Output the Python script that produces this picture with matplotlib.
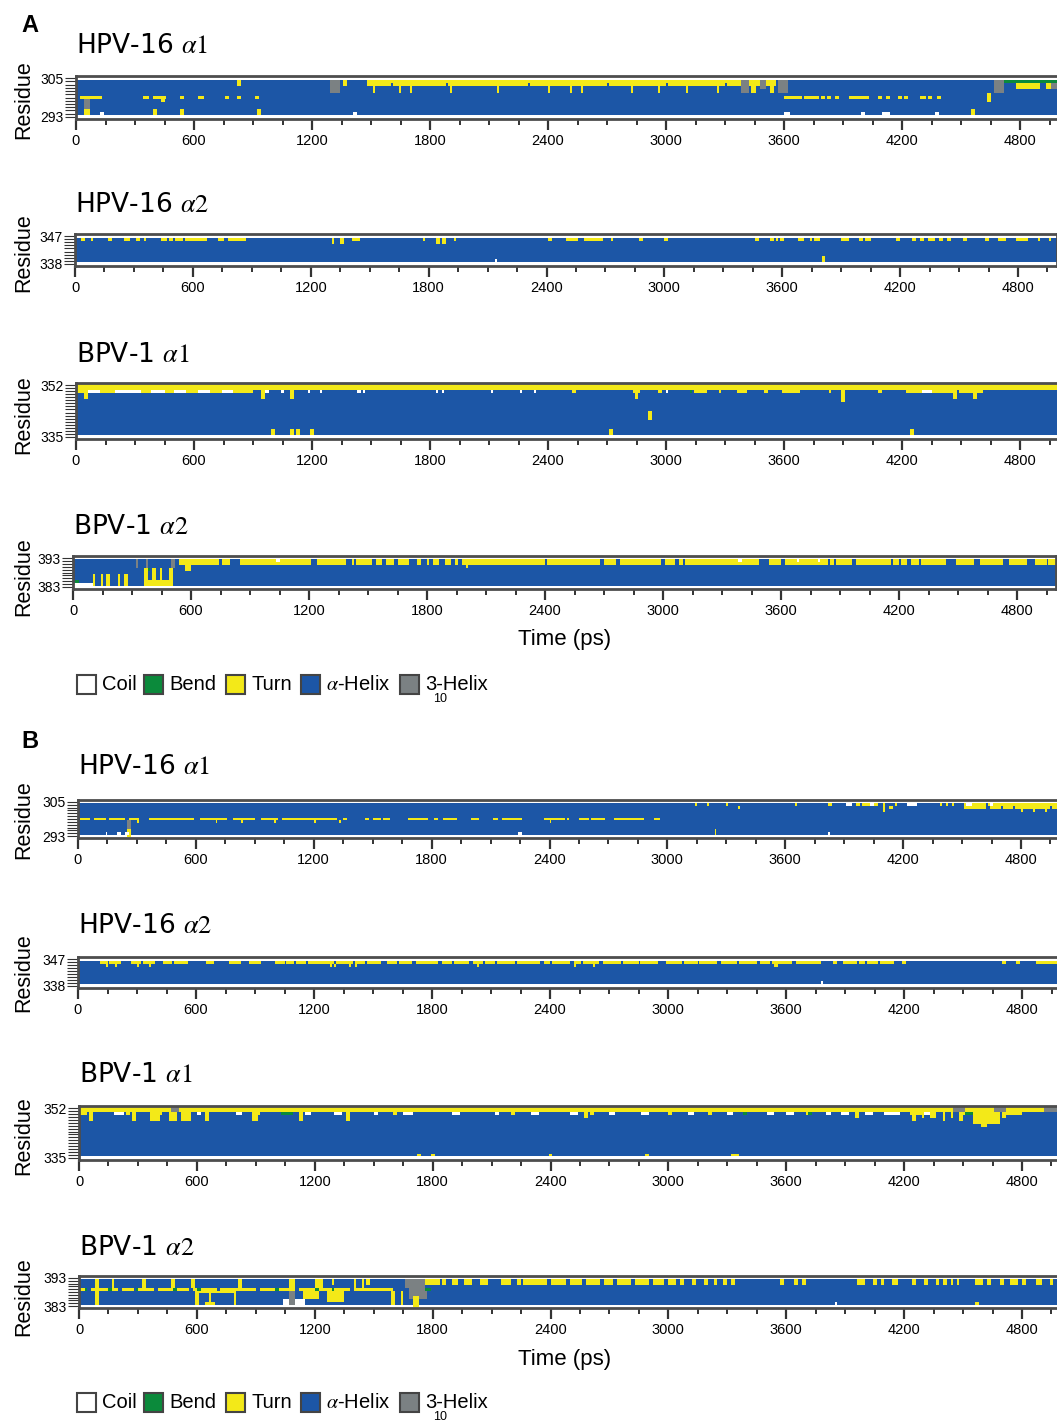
import numpy as np
import matplotlib.pyplot as plt
from matplotlib.colors import ListedColormap, BoundaryNorm
from matplotlib.patches import Rectangle

plt.rcParams['mathtext.fontset'] = 'stix'

W, H = 1057, 1421
DT = 10
T_END = 5000

STATES = ['C', 'B', 'T', 'H', 'G']
STATE_COLORS = ['#ffffff', '#0b8a3b', '#f3e918', '#1c56a6', '#7b8183']
LEGEND_LABELS = ['Coil', 'Bend', 'Turn', r'$\alpha$-Helix', '3-Helix']


def on(state, r0, r1, spans):
    return [(state, r0, r1, a, b) for a, b in spans]


# ---------------- A : HPV-16 alpha1 (293-305) ----------------
a1_turn_top = [(1480, 3560), (1360, 1380), (820, 840)]
a1_gap_top = [(1600, 1610), (1880, 1890), (2300, 2310), (2700, 2710), (3000, 3010), (3300, 3310)]
a1_drip = [(1510, 1520), (1640, 1650), (1700, 1710), (1900, 1910), (2140, 2150), (2400, 2410),
           (2510, 2520), (2570, 2580), (2820, 2830), (2960, 2970), (3100, 3110), (3260, 3270),
           (3430, 3460), (3530, 3550)]
a1_turn_299 = [(20, 130), (340, 370), (390, 460), (530, 550), (620, 650), (760, 780), (820, 840),
               (910, 930), (3600, 3690), (3700, 3780), (3795, 3810), (3825, 3840), (3865, 3880),
               (3930, 4030), (4085, 4100), (4125, 4140), (4185, 4200), (4215, 4230), (4290, 4320),
               (4335, 4350), (4385, 4400)]
a1_turn_low = [(40, 65), (390, 410), (530, 550), (920, 940), (4550, 4570)]
a1_coil_294 = [(120, 140), (1410, 1430), (3600, 3630), (3995, 4010), (4100, 4115), (4125, 4135), (4375, 4390)]
a1_helix310 = [(45, 65, 296, 298), (1290, 1340, 301, 304), (3380, 3420, 301, 304),
               (3480, 3510, 302, 304), (3570, 3620, 301, 304), (4670, 4720, 301, 304), (4960, 5000, 302, 303)]
a1_segments = (on('C', 305, 305, [(0, T_END)]) + on('C', 293, 293, [(0, T_END)])
               + on('T', 303, 304, a1_turn_top) + on('H', 303, 303, a1_gap_top)
               + on('T', 301, 302, a1_drip) + on('T', 299, 299, a1_turn_299)
               + on('T', 298, 298, [(430, 450)]) + on('T', 294, 295, a1_turn_low)
               + on('T', 298, 300, [(4630, 4650)]) + on('C', 294, 294, a1_coil_294)
               + [('G', r0, r1, a, b) for a, b, r0, r1 in a1_helix310]
               + on('B', 304, 304, [(4720, 5000)]) + on('T', 302, 303, [(4780, 4900), (4930, 4960)]))

# ---------------- A : HPV-16 alpha2 (338-347) ----------------
a2_turn_346 = [(34, 50), (80, 90), (175, 185), (255, 280), (310, 330), (350, 360), (440, 466), (488, 498),
               (515, 545), (565, 670), (735, 755), (785, 865), (1310, 1320), (1352, 1362), (1412, 1442),
               (1770, 1780), (1845, 1855), (1875, 1885), (1930, 1940), (2415, 2425), (2500, 2555),
               (2595, 2690), (2730, 2740), (2873, 2883), (3008, 3018), (3466, 3476), (3545, 3555),
               (3570, 3580), (3595, 3606), (3688, 3708), (3740, 3750), (3765, 3785), (3908, 3937),
               (3995, 4005), (4020, 4047), (4180, 4200), (4265, 4280), (4300, 4320), (4340, 4380),
               (4400, 4420), (4440, 4455), (4528, 4538), (4636, 4646), (4708, 4734), (4790, 4845),
               (4900, 4910), (4960, 4970)]
a2_drip_345 = [(1310, 1320), (1352, 1362), (1845, 1855), (1875, 1885)]
a2_segments = (on('C', 347, 347, [(0, T_END)]) + on('C', 338, 338, [(0, T_END)])
               + on('T', 346, 346, a2_turn_346) + on('T', 345, 345, a2_drip_345)
               + on('C', 339, 339, [(2140, 2150)]) + on('T', 339, 340, [(3805, 3815)]))

# ---------------- A : BPV-1 alpha1 (335-352) ----------------
a3_turn_350 = [(0, 60), (120, 200), (330, 380), (450, 500), (560, 620), (680, 740), (800, 900),
               (2525, 2535), (2830, 2870), (2965, 2975), (3140, 3210), (3270, 3280), (3360, 3410),
               (3505, 3515), (3595, 3680), (3830, 3840), (4085, 4095), (4225, 4300), (4350, 4460),
               (4490, 4610)]
a3_coil_350 = [(60, 120), (200, 330), (380, 450), (500, 560), (620, 680), (740, 800), (960, 980),
               (1040, 1060), (1180, 1190), (1240, 1250), (1430, 1450), (1460, 1470), (1830, 1840),
               (1860, 1870), (2110, 2120), (2260, 2270), (2330, 2340), (3000, 3010), (4300, 4350)]
a3_drip = [(45, 60), (944, 960), (1090, 1105), (2840, 2855), (4465, 4480), (4560, 4575)]
a3_turn_336 = [(995, 1010), (1095, 1105), (1125, 1135), (1195, 1210), (2710, 2725), (4245, 4260)]
a3_segments = (on('T', 351, 352, [(0, T_END)]) + on('C', 335, 335, [(0, T_END)])
               + on('C', 350, 350, a3_coil_350) + on('T', 350, 350, a3_turn_350)
               + on('T', 348, 350, a3_drip) + on('T', 347, 350, [(3890, 3905)])
               + on('T', 336, 337, a3_turn_336) + on('T', 341, 343, [(2910, 2925)])
               + on('B', 350, 350, [(3120, 3130)]))

# ---------------- A : BPV-1 alpha2 (383-393) ----------------
a4_turn_top = [(545, T_END)]
a4_gap_top = [(740, 757), (808, 842), (1215, 1232), (1395, 1412), (1430, 1440), (1525, 1535),
              (1575, 1585), (1635, 1645), (1716, 1741), (1775, 1792), (1811, 1821), (1867, 1884),
              (1926, 1936), (1960, 1977), (2400, 2410), (2684, 2700), (2765, 2775), (2995, 3006),
              (3060, 3075), (3100, 3110), (3498, 3532), (3600, 3617), (3840, 3850), (3870, 3880),
              (3960, 3975), (4160, 4170), (4200, 4210), (4240, 4255), (4300, 4310), (4448, 4482),
              (4584, 4601), (4737, 4754), (4856, 4890), (4950, 4960)]
a4_bars_low = [(100, 110), (140, 150), (170, 190), (230, 240), (265, 275)]
a4_bars_tall = [(362, 375), (405, 420), (440, 450), (495, 505)]
a4_segments = (on('C', 393, 393, [(0, T_END)]) + on('C', 383, 383, [(0, T_END)])
               + on('C', 384, 384, [(0, 100)]) + on('B', 385, 385, [(10, 25)])
               + on('T', 384, 387, a4_bars_low) + on('T', 384, 385, [(362, 510)])
               + on('T', 384, 389, a4_bars_tall) + on('B', 389, 389, [(380, 390)])
               + on('G', 390, 392, [(320, 330), (370, 380), (505, 515)])
               + on('T', 391, 392, a4_turn_top) + on('H', 391, 392, a4_gap_top)
               + on('T', 389, 390, [(578, 595)]) + on('T', 390, 390, [(2000, 2010)])
               + on('C', 392, 392, [(1037, 1047), (3380, 3400), (3680, 3690), (3790, 3800)]))

# ---------------- B : HPV-16 alpha1 (293-305) ----------------
b1_turn_299 = [(13, 56), (81, 132), (166, 234), (268, 310), (369, 590), (624, 760), (794, 896),
               (930, 1014), (1048, 1319), (1353, 1370), (1463, 1480), (1505, 1531), (1557, 1590),
               (1684, 1777), (1811, 1828), (1862, 1930), (2006, 2031), (2116, 2133), (2167, 2252),
               (2372, 2474), (2491, 2500), (2550, 2593), (2618, 2677), (2737, 2872), (2932, 2957)]
b1_drip_298 = [(300, 310), (700, 710), (830, 840), (1000, 1010), (1200, 1210), (1330, 1340), (2400, 2410)]
b1_coil_294 = [(140, 150), (205, 215), (245, 255), (2245, 2255), (3820, 3830)]
b1_turn_304 = [(3140, 3150), (3200, 3210), (3300, 3310), (3650, 3660), (3825, 3840), (3965, 3975),
               (3990, 4070), (4160, 4170), (4390, 4400), (4420, 4430), (4450, 4460), (4510, 4615),
               (4630, T_END)]
b1_drip_303 = [(3360, 3370), (4130, 4145), (4510, 4615), (4640, T_END)]
b1_drip_302 = [(4800, 4810), (4860, 4870), (4920, 4930)]
b1_segments = (on('C', 305, 305, [(0, T_END)]) + on('C', 293, 293, [(0, T_END)])
               + on('T', 299, 299, b1_turn_299) + on('T', 298, 298, b1_drip_298)
               + on('G', 294, 298, [(250, 262)]) + on('T', 293, 295, [(255, 268)])
               + on('C', 294, 294, b1_coil_294) + on('T', 294, 295, [(3240, 3250)])
               + on('T', 304, 304, b1_turn_304) + on('T', 303, 303, b1_drip_303)
               + on('T', 302, 302, b1_drip_302) + on('T', 302, 304, [(4100, 4110)])
               + on('C', 304, 304, [(3910, 3935), (4030, 4045), (4220, 4262), (4520, 4550), (4640, 4660)])
               + on('H', 303, 303, [(4700, 4710), (4760, 4770), (4950, 4960)]))

# ---------------- B : HPV-16 alpha2 (338-347) ----------------
b2_turn_346 = [(112, 214), (273, 383), (434, 553), (654, 688), (773, 824), (875, 926), (1002, 1299),
               (1316, 1536), (1570, 1700), (1720, 1830), (1850, 1990), (2010, 2214), (2230, 2350),
               (2370, 2500), (2520, 2650), (2670, 2945), (2996, 3064), (3081, 3250), (3270, 3450),
               (3470, 3623), (3657, 3776), (3848, 3858), (3894, 4064), (4081, 4149), (4195, 4205),
               (4703, 4713), (4771, 4781), (4877, T_END)]
b2_gap_346 = [(150, 160), (320, 330), (480, 490), (1050, 1060), (1100, 1110), (1160, 1170),
              (1400, 1410), (1460, 1470), (1620, 1630), (1900, 1910), (2060, 2070), (2120, 2130),
              (2400, 2410), (2560, 2570), (2760, 2770), (2850, 2860), (3150, 3160), (3350, 3360),
              (3520, 3530), (3960, 3970), (4000, 4010)]
b2_drip_345 = [(140, 150), (190, 200), (300, 310), (360, 370), (1280, 1290), (1300, 1310),
               (1380, 1390), (1410, 1420), (2030, 2040), (2520, 2530), (2620, 2630), (3540, 3560)]
b2_segments = (on('C', 347, 347, [(0, T_END)]) + on('C', 338, 338, [(0, T_END)])
               + on('T', 346, 346, b2_turn_346) + on('H', 346, 346, b2_gap_346)
               + on('T', 345, 345, b2_drip_345) + on('C', 339, 339, [(3780, 3790)]))

# ---------------- B : BPV-1 alpha1 (335-352) ----------------
b3_coil_350 = [(180, 230), (600, 620), (800, 830), (1150, 1180), (1300, 1340), (1500, 1520),
               (1650, 1700), (1900, 1940), (2120, 2140), (2300, 2340), (2500, 2540), (2700, 2730),
               (2860, 2900), (3100, 3130), (3300, 3330), (3500, 3540), (3600, 3640), (3800, 3830),
               (3880, 3920), (4000, 4040), (4100, 4180), (4300, 4340)]
b3_turn_350 = [(0, 40), (240, 260), (400, 420), (640, 660), (900, 920), (1600, 1620), (2200, 2220),
               (2600, 2620), (3000, 3020), (3200, 3220), (3700, 3720), (4230, 4300), (4500, 4560),
               (4720, 4800)]
b3_drip = [(50, 65), (270, 285), (365, 405), (468, 500), (520, 565), (645, 655), (880, 905),
           (1128, 1140), (1365, 1380), (4245, 4260), (4400, 4410), (4480, 4500)]
b3_drip_short = [(2578, 2590), (3950, 3965), (4290, 4300), (4330, 4360), (4440, 4450), (4700, 4720)]
b3_turn_336 = [(1722, 1732), (1798, 1808), (2392, 2402), (2885, 2895), (3328, 3356)]
b3_segments = (on('T', 351, 352, [(0, T_END)]) + on('C', 335, 335, [(0, T_END)])
               + on('C', 350, 350, b3_coil_350) + on('T', 350, 350, b3_turn_350)
               + on('T', 348, 350, b3_drip) + on('T', 349, 350, b3_drip_short)
               + on('T', 347, 350, [(4551, 4686)]) + on('T', 346, 347, [(4590, 4620)])
               + on('G', 351, 352, [(471, 505), (4455, 4510), (4660, 4720), (4915, T_END)])
               + on('B', 350, 350, [(1030, 1081), (3385, 3395), (3715, 3725), (4510, 4550)])
               + on('T', 336, 336, b3_turn_336))

# ---------------- B : BPV-1 alpha2 (383-393) ----------------
b4_gap_389 = [(40, 60), (200, 220), (280, 300), (380, 400), (560, 580), (700, 720), (900, 920),
              (1100, 1120), (1380, 1400)]
b4_bend_389 = [(30, 40), (150, 165), (290, 300), (480, 495), (600, 615), (1000, 1015), (1200, 1215),
               (1290, 1300)]
b4_bars_top = [(88, 96), (172, 180), (325, 333), (478, 486), (578, 586), (815, 823), (1073, 1098),
               (1209, 1234), (1400, 1410), (1440, 1450)]
b4_bars_low = [(88, 96), (595, 603), (660, 668), (790, 798), (1590, 1610), (1640, 1650)]
b4_turn_top = [(1293, 1300), (1463, 1480), (1850, 1870), (1900, 1930), (1960, 2000), (2040, 2080),
               (2150, 2200), (2230, 2250), (2260, 2380), (2400, 2480), (2500, 2560), (2580, 2650),
               (2670, 2720), (2740, 2810), (2830, 2900), (2920, 2980), (3000, 3040), (3060, 3080),
               (3120, 3140), (3180, 3200), (3230, 3250), (3280, 3300), (3320, 3340), (3570, 3590),
               (3640, 3660), (3680, 3700), (3960, 4000), (4040, 4060), (4080, 4100), (4140, 4170),
               (4240, 4260), (4300, 4320), (4360, 4380), (4400, 4420), (4440, 4450), (4470, 4480),
               (4560, 4600), (4620, 4640), (4690, 4710), (4740, 4780), (4800, 4820), (4870, 4900),
               (4940, 4960), (4980, T_END)]
b4_segments = (on('C', 393, 393, [(0, T_END)]) + on('C', 383, 383, [(0, T_END)])
               + on('T', 389, 389, [(0, 1600)]) + on('H', 389, 389, b4_gap_389)
               + on('B', 389, 389, b4_bend_389)
               + on('T', 390, 392, b4_bars_top) + on('T', 384, 388, b4_bars_low)
               + on('T', 388, 388, [(600, 790)]) + on('T', 384, 384, [(640, 690)])
               + on('C', 384, 385, [(1040, 1145)]) + on('G', 384, 388, [(1076, 1093)])
               + on('T', 386, 388, [(1147, 1215)]) + on('T', 385, 388, [(1262, 1345)])
               + on('G', 386, 389, [(1686, 1770)]) + on('T', 383, 386, [(1700, 1725)])
               + on('G', 390, 392, [(1660, 1760)]) + on('T', 391, 392, [(1760, 1840)])
               + on('B', 389, 389, [(1760, 1790)]) + on('T', 391, 392, b4_turn_top)
               + on('C', 384, 384, [(3850, 3860)]) + on('T', 384, 384, [(4560, 4575)]))

# title, lo, hi, segments
panel_titles = [r'HPV-16 $\alpha 1$', r'HPV-16 $\alpha 2$', r'BPV-1 $\alpha 1$', r'BPV-1 $\alpha 2$'] * 2
panel_ranges = [(293, 305), (338, 347), (335, 352), (383, 393)] * 2
panel_segments = [a1_segments, a2_segments, a3_segments, a4_segments,
                  b1_segments, b2_segments, b3_segments, b4_segments]

# layout in pixels: x of t=0, x of t=4800, frame top, frame bottom, title baseline, residue label y
layout = [
    (76, 1020, 76, 119, 53, 100),
    (75, 1018, 234, 266, 212, 253),
    (76, 1020, 383, 439, 362, 415),
    (73, 1017, 556, 589, 534, 577),
    (78, 1021, 800, 838, 774, 820),
    (78, 1022, 957, 988, 933, 973),
    (79, 1022, 1106, 1160, 1082, 1136),
    (79, 1022, 1276, 1308, 1255, 1297),
]

cmap = ListedColormap(STATE_COLORS)
norm = BoundaryNorm(np.arange(-0.5, len(STATES)), cmap.N)


def build_matrix(lo, hi, segments):
    m = np.full((hi - lo + 1, T_END // DT), STATES.index('H'))
    for st, r0, r1, t0, t1 in segments:
        i0 = int(t0 // DT)
        i1 = max(int(np.ceil(t1 / DT)), i0 + 1)
        m[r0 - lo:r1 - lo + 1, i0:i1] = STATES.index(st)
    return m


fig = plt.figure(figsize=(W / 100, H / 100), dpi=100)
sans = 'Liberation Sans'

for title, (lo, hi), segs, (x0, x48, top, bot, ty, ry) in zip(panel_titles, panel_ranges,
                                                             panel_segments, layout):
    scale = (x48 - x0) / 4800
    ax = fig.add_axes([x0 / W, 1 - bot / H, T_END * scale / W, (bot - top) / H])
    m = build_matrix(lo, hi, segs)
    tedges = np.arange(0, T_END + DT, DT)
    redges = np.arange(lo - 0.5, hi + 1.5)
    ax.pcolormesh(tedges, redges, m, cmap=cmap, norm=norm, rasterized=True)
    ax.set_xlim(0, T_END)
    ax.set_ylim(lo - 0.7, hi + 0.7)
    for sp in ax.spines.values():
        sp.set_color('#4d4d4d')
        sp.set_linewidth(2)
    # light inner line of the double frame
    for yy in (lo - 0.62, hi + 0.62):
        ax.axhline(yy, color='#c8c8c8', lw=0.8)
    ax.set_xticks(np.arange(0, 4801, 600))
    ax.set_xticks(np.arange(0, T_END, 150), minor=True)
    ax.set_yticks(np.arange(lo, hi + 1))
    ax.set_yticklabels([str(r) if r in (lo, hi) else '' for r in range(lo, hi + 1)])
    ax.tick_params(axis='x', which='major', length=8, width=1.6, color='#333333',
                   labelsize=10.5, pad=3)
    ax.tick_params(axis='x', which='minor', length=4.5, width=1.4, color='#333333')
    ax.tick_params(axis='y', length=8, width=0.8, color='#333333', labelsize=10, pad=1)
    for lab in ax.get_xticklabels() + ax.get_yticklabels():
        lab.set_fontfamily(sans)
    fig.text(x0 / W, 1 - ty / H, title, fontsize=19, family='DejaVu Sans',
             va='baseline', ha='left')
    fig.text(24 / W, 1 - ry / H, 'Residue', rotation=90, fontsize=15.5, family=sans,
             va='center', ha='center')

fig.text(30 / W, 1 - 25 / H, 'A', fontsize=17, fontweight='bold', family=sans, va='center', ha='center')
fig.text(30 / W, 1 - 741 / H, 'B', fontsize=17, fontweight='bold', family=sans, va='center', ha='center')
for yt in (640, 1360):
    fig.text(565 / W, 1 - yt / H, 'Time (ps)', fontsize=16, family=sans, va='center', ha='center')

# legend drawn by hand
legend_box_x = [77, 144, 226, 301, 400]
for ly in (685, 1403):
    for i, (bx, lab) in enumerate(zip(legend_box_x, LEGEND_LABELS)):
        fig.patches.append(Rectangle((bx / W, 1 - (ly + 9) / H), 19 / W, 19 / H,
                                     transform=fig.transFigure, facecolor=STATE_COLORS[i],
                                     edgecolor='#444444', linewidth=1.5))
        fig.text((bx + 25) / W, 1 - ly / H, lab, fontsize=14.5, family=sans,
                 va='center', ha='left')
    fig.text(433 / W, 1 - (ly + 14) / H, '10', fontsize=9, family=sans, va='center', ha='left')

fig.savefig('out.png', dpi=100)
